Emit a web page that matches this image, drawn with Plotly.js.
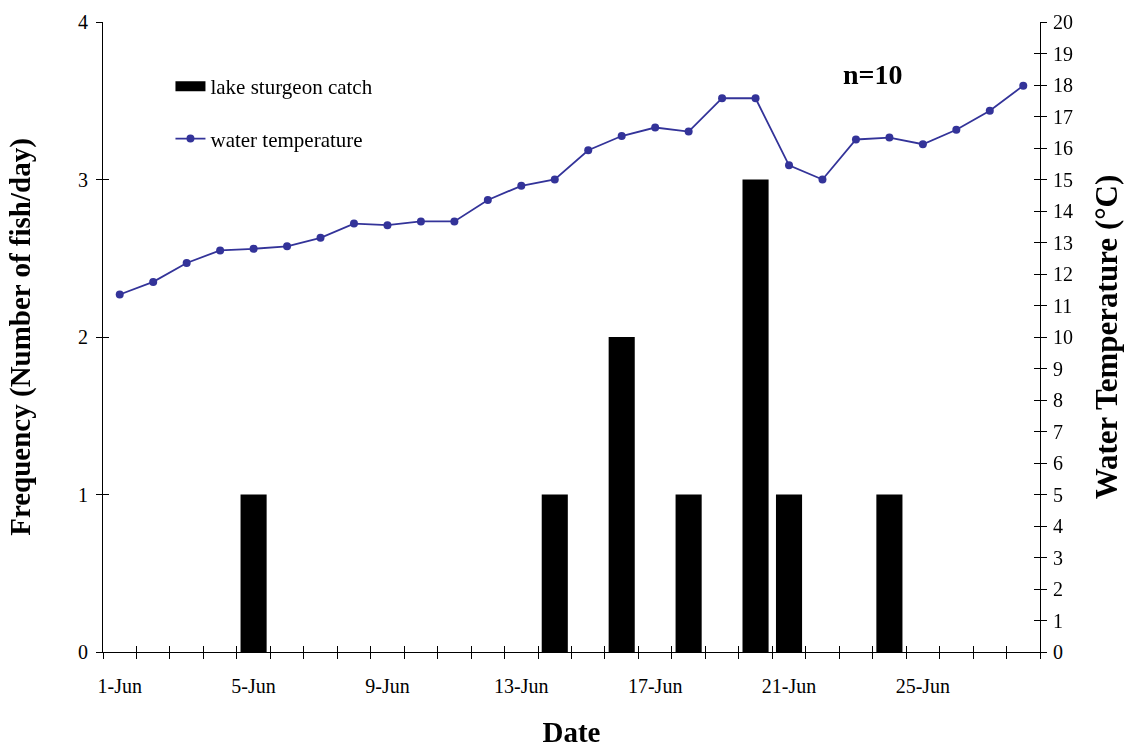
<!DOCTYPE html>
<html>
<head>
<meta charset="utf-8">
<script src="https://cdn.plot.ly/plotly-3.0.1.min.js"></script>
<style>html,body{margin:0;padding:0;background:#fff;}#chart{width:1124px;height:748px;}</style>
</head>
<body>
<div id="chart"></div>
<script>
const dates = ['1-Jun','2-Jun','3-Jun','4-Jun','5-Jun','6-Jun','7-Jun','8-Jun','9-Jun','10-Jun',
  '11-Jun','12-Jun','13-Jun','14-Jun','15-Jun','16-Jun','17-Jun','18-Jun','19-Jun','20-Jun',
  '21-Jun','22-Jun','23-Jun','24-Jun','25-Jun','26-Jun','27-Jun','28-Jun'];
const catchCount = [0,0,0,0,1,0,0,0,0,0,0,0,0,1,0,2,0,1,0,3,1,0,0,1,0,0,0,0];
const waterTemp = [11.35,11.75,12.35,12.75,12.8,12.88,13.15,13.6,13.55,13.67,13.67,14.35,14.8,15.0,
  15.93,16.38,16.65,16.52,17.58,17.58,15.45,15.0,16.27,16.33,16.12,16.58,17.18,17.98];
const labelledDates = ['1-Jun','5-Jun','9-Jun','13-Jun','17-Jun','21-Jun','25-Jun'];

const serif = 'Liberation Serif, Times New Roman, serif';
const navy = '#333399';
const xRange = [-0.5, dates.length - 0.5];

const traces = [
  {type:'bar', x:dates, y:catchCount, name:'lake sturgeon catch', width:0.78,
   marker:{color:'#000', line:{color:'#000', width:0}}, xaxis:'x', yaxis:'y',
   legendgroup:'a', showlegend:false, hoverinfo:'skip'},
  // legend entry for the bars, drawn as a wide black block like the original key
  {type:'scatter', mode:'lines', x:[null], y:[null], name:'lake sturgeon catch',
   line:{color:'#000', width:17}, xaxis:'x', yaxis:'y', legendgroup:'a', hoverinfo:'skip'},
  {type:'scatter', mode:'lines+markers', x:dates, y:waterTemp, name:'water temperature',
   line:{color:navy, width:1.8}, marker:{color:navy, size:8}, xaxis:'x', yaxis:'y2',
   legendgroup:'b', hoverinfo:'skip'},
  // invisible helper traces that carry the crossing tick marks
  {type:'scatter', mode:'markers', x:dates, y:catchCount, xaxis:'x3', yaxis:'y3',
   opacity:0, showlegend:false, hoverinfo:'skip'},
  {type:'scatter', mode:'markers', x:dates, y:waterTemp, xaxis:'x4', yaxis:'y4',
   opacity:0, showlegend:false, hoverinfo:'skip'}
];

const tickFont = {family:serif, size:20, color:'#000'};
const titleFont = {family:serif, size:29, color:'#000', weight:'bold'};

const layout = {
  width:1124, height:748,
  margin:{l:103, r:84, t:22, b:96},
  paper_bgcolor:'#fff', plot_bgcolor:'#fff',
  showlegend:true,
  legend:{x:0.072, y:0.93, xanchor:'left', yanchor:'top', font:{family:serif, size:21, color:'#000'},
    bgcolor:'rgba(0,0,0,0)', traceorder:'grouped', tracegroupgap:22},
  xaxis:{type:'category', categoryorder:'array', categoryarray:dates, range:xRange,
    tickmode:'array', tickvals:labelledDates, ticktext:labelledDates, ticks:'',
    ticklabelstandoff:16, tickfont:tickFont, showline:true, linecolor:'#000', linewidth:1,
    showgrid:false, zeroline:false, fixedrange:true,
    title:{text:'Date', font:titleFont, standoff:26}},
  xaxis3:{type:'category', categoryorder:'array', categoryarray:dates, range:xRange,
    overlaying:'x', anchor:'y3', tickson:'boundaries', tickmode:'linear', dtick:1,
    ticks:'outside', ticklen:6, tickcolor:'#000', tickwidth:1, showticklabels:false,
    showline:false, showgrid:false, zeroline:false},
  xaxis4:{type:'category', categoryorder:'array', categoryarray:dates, range:xRange,
    overlaying:'x', anchor:'y4', tickson:'boundaries', tickmode:'linear', dtick:1,
    ticks:'inside', ticklen:6, tickcolor:'#000', tickwidth:1, showticklabels:false,
    showline:false, showgrid:false, zeroline:false},
  yaxis:{range:[0,4], dtick:1, tick0:0, ticks:'outside', ticklen:6, tickcolor:'#000',
    ticklabelstandoff:4,
    tickfont:tickFont, showline:true, linecolor:'#000', linewidth:1, showgrid:false, zeroline:false,
    title:{text:'Frequency (Number of fish/day)', font:titleFont, standoff:38}},
  yaxis3:{range:[0,4], dtick:1, tick0:0, overlaying:'y', anchor:'x3', side:'left',
    ticks:'inside', ticklen:6, tickcolor:'#000', showticklabels:false, showline:false,
    showgrid:false, zeroline:false},
  yaxis2:{range:[0,20], dtick:1, tick0:0, overlaying:'y', side:'right', anchor:'x',
    ticks:'outside', ticklen:6, tickcolor:'#000', tickfont:tickFont, showline:true,
    ticklabelstandoff:2,
    linecolor:'#000', linewidth:1, showgrid:false, zeroline:false,
    title:{text:'Water Temperature (°C)', font:{family:serif, size:31, color:'#000', weight:'bold'}, standoff:26}},
  yaxis4:{range:[0,20], dtick:1, tick0:0, overlaying:'y', side:'right', anchor:'x4',
    ticks:'inside', ticklen:6, tickcolor:'#000', showticklabels:false, showline:false,
    showgrid:false, zeroline:false},
  annotations:[{text:'n=10', xref:'paper', yref:'paper', x:0.822, y:0.916,
    xanchor:'center', yanchor:'middle', showarrow:false,
    font:{family:serif, size:28, color:'#000', weight:'bold'}}]
};

Plotly.newPlot('chart', traces, layout, {staticPlot:true, displayModeBar:false});
</script>
</body>
</html>
